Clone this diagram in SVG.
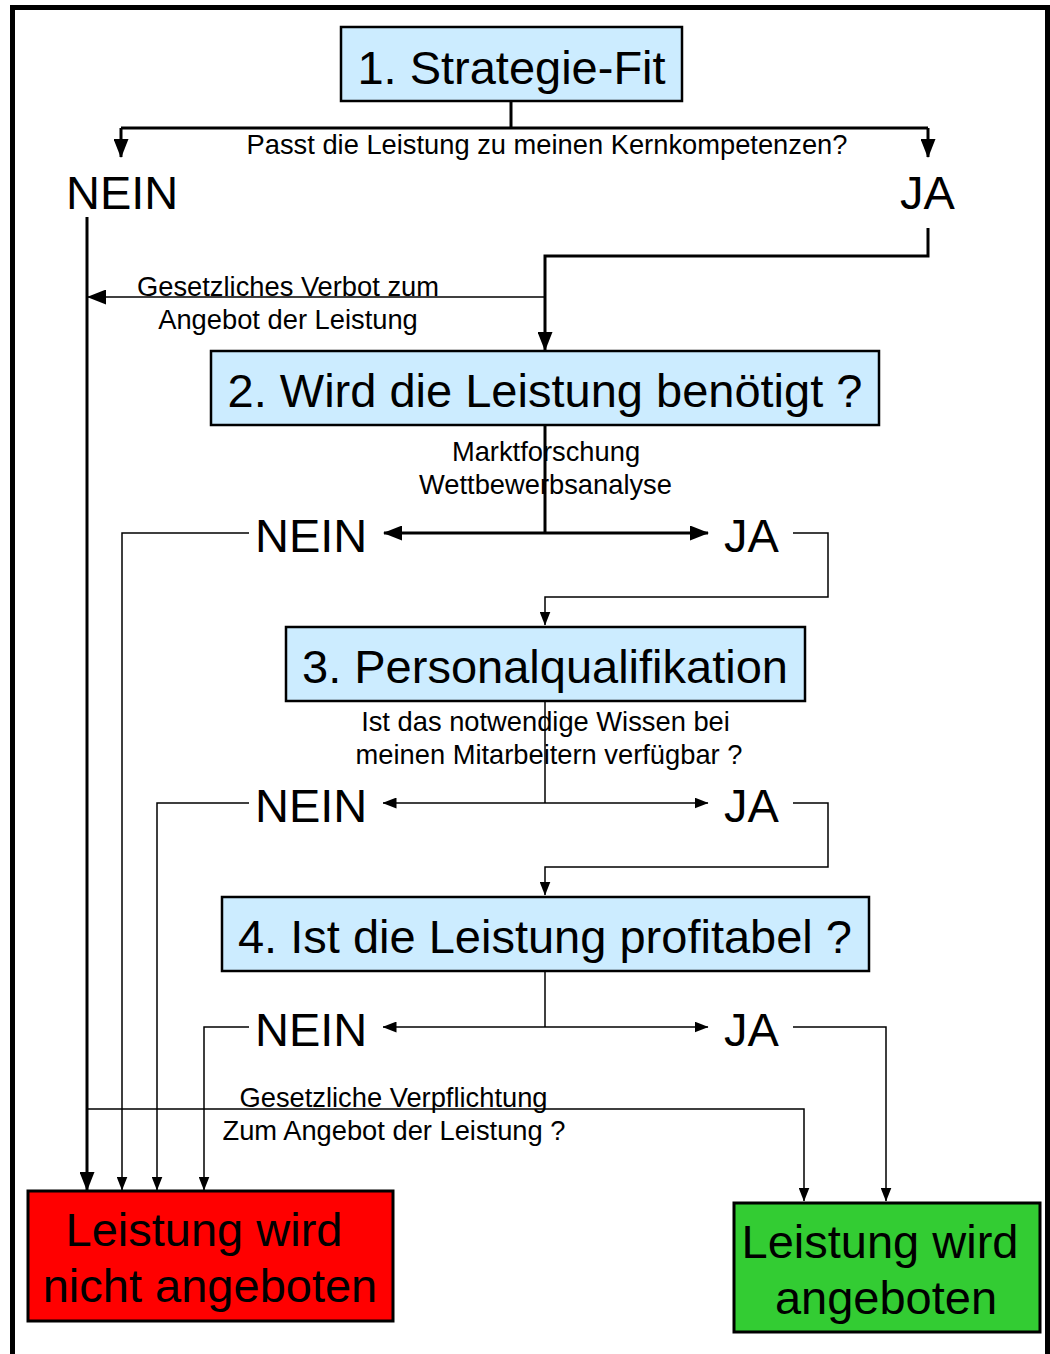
<svg xmlns="http://www.w3.org/2000/svg" width="1050" height="1354" viewBox="0 0 1050 1354">
<style>
text{font-family:"Liberation Sans",Arial,sans-serif;fill:#000}
.big{font-size:47px}
.sm{font-size:27.3px}
.box{fill:#CCECFF;stroke:#000;stroke-width:2.5}
.thick{fill:none;stroke:#000;stroke-width:3}
.thin{fill:none;stroke:#000;stroke-width:1.5}
</style>
<defs>
<marker id="ah" viewBox="0 0 19 15" refX="18" refY="7.5" markerWidth="19" markerHeight="15" markerUnits="userSpaceOnUse" orient="auto-start-reverse"><path d="M0,0 L19,7.5 L0,15 z" fill="#000"/></marker>
<marker id="as" viewBox="0 0 14 11" refX="13.5" refY="5.5" markerWidth="14" markerHeight="11" markerUnits="userSpaceOnUse" orient="auto-start-reverse"><path d="M0,0 L14,5.5 L0,11 z" fill="#000"/></marker>
</defs>
<rect x="12.5" y="7.5" width="1035" height="1370" fill="#fff" stroke="#000" stroke-width="5"/>

<g id="connectors">
<path class="thick" d="M511,101 V128"/>
<path class="thick" d="M121,128 H928"/>
<path class="thick" d="M121,128 V157" marker-end="url(#ah)"/>
<path class="thick" d="M928,128 V157" marker-end="url(#ah)"/>
<path class="thick" d="M87,217 V1190" marker-end="url(#ah)"/>
<path class="thick" d="M928,228 V256 H545 V350" marker-end="url(#ah)"/>
<path class="thin" d="M545,297 H88" marker-end="url(#ah)"/>
<path class="thick" d="M545,425 V533"/>
<path class="thick" d="M384,533 H708" marker-start="url(#ah)" marker-end="url(#ah)"/>
<path class="thin" d="M249,533 H122 V1190" marker-end="url(#as)"/>
<path class="thin" d="M793,533 H828 V597 H545 V625" marker-end="url(#as)"/>
<path class="thin" d="M545,701 V803"/>
<path class="thin" d="M383,803 H708" marker-start="url(#as)" marker-end="url(#as)"/>
<path class="thin" d="M249,803 H157 V1190" marker-end="url(#as)"/>
<path class="thin" d="M793,803 H828 V867 H545 V895" marker-end="url(#as)"/>
<path class="thin" d="M545,971 V1027"/>
<path class="thin" d="M383,1027 H708" marker-start="url(#as)" marker-end="url(#as)"/>
<path class="thin" d="M249,1027 H204 V1190" marker-end="url(#as)"/>
<path class="thin" d="M793,1027 H886 V1201" marker-end="url(#as)"/>
<path class="thin" d="M87,1109 H804 V1201" marker-end="url(#as)"/>
</g>

<g id="labels">
<text class="sm" x="547" y="154" text-anchor="middle">Passt die Leistung zu meinen Kernkompetenzen?</text>
<text class="big" x="66" y="209">NEIN</text>
<text class="big" x="900" y="209">JA</text>
<text class="sm" x="288" y="296" text-anchor="middle">Gesetzliches Verbot zum</text>
<text class="sm" x="288" y="329" text-anchor="middle">Angebot der Leistung</text>
<text class="sm" x="546" y="461" text-anchor="middle">Marktforschung</text>
<text class="sm" x="545.5" y="494" text-anchor="middle">Wettbewerbsanalyse</text>
<text class="big" x="255" y="552">NEIN</text>
<text class="big" x="724" y="552">JA</text>
<text class="sm" x="545.5" y="731" text-anchor="middle">Ist das notwendige Wissen bei</text>
<text class="sm" x="549" y="764" text-anchor="middle">meinen Mitarbeitern verfügbar ?</text>
<text class="big" x="255" y="822">NEIN</text>
<text class="big" x="724" y="822">JA</text>
<text class="big" x="255" y="1046">NEIN</text>
<text class="big" x="724" y="1046">JA</text>
<text class="sm" x="393.5" y="1107" text-anchor="middle">Gesetzliche Verpflichtung</text>
<text class="sm" x="394" y="1140" text-anchor="middle">Zum Angebot der Leistung ?</text>
</g>

<g id="n1">
<rect class="box" x="341" y="27" width="341" height="74"/>
<text class="big" x="511.5" y="84" text-anchor="middle">1. Strategie-Fit</text>
</g>
<g id="n2">
<rect class="box" x="211" y="351" width="668" height="74"/>
<text class="big" x="545" y="407" text-anchor="middle">2. Wird die Leistung benötigt ?</text>
</g>
<g id="n3">
<rect class="box" x="286" y="627" width="519" height="74"/>
<text class="big" x="545" y="683" text-anchor="middle">3. Personalqualifikation</text>
</g>
<g id="n4">
<rect class="box" x="222" y="897" width="647" height="74"/>
<text class="big" x="545" y="953" text-anchor="middle">4. Ist die Leistung profitabel ?</text>
</g>
<g id="n5">
<rect x="28" y="1191" width="365" height="130" fill="#FF0000" stroke="#000" stroke-width="3"/>
<text class="big" x="204" y="1246" text-anchor="middle">Leistung wird</text>
<text class="big" x="210" y="1302" text-anchor="middle">nicht angeboten</text>
</g>
<g id="n6">
<rect x="734" y="1203" width="306" height="129" fill="#33CC33" stroke="#000" stroke-width="3"/>
<text class="big" x="880" y="1258" text-anchor="middle">Leistung wird</text>
<text class="big" x="886" y="1314" text-anchor="middle">angeboten</text>
</g>
</svg>
